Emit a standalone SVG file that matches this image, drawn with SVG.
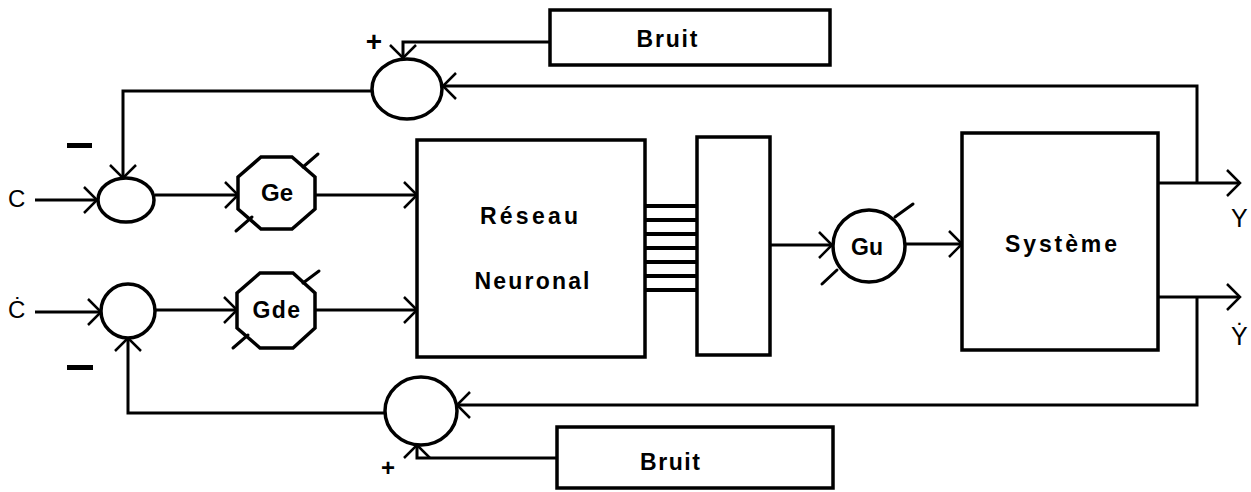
<svg xmlns="http://www.w3.org/2000/svg" width="1251" height="492" viewBox="0 0 1251 492">
<style>
.ln{fill:none;stroke:#000;stroke-width:3;stroke-linejoin:miter}
.bx{fill:#fff;stroke:#000;stroke-width:3.5}
.nd{fill:#fff;stroke:#000;stroke-width:3.5}
.tk{stroke:#000;stroke-width:3;stroke-linecap:round}
.lbl{font-family:"Liberation Sans","DejaVu Sans",sans-serif;font-weight:bold;fill:#000;text-anchor:middle}
.io{font-family:"Liberation Sans","DejaVu Sans",sans-serif;fill:#000}
</style>
<defs>
<marker id="ah" viewBox="0 0 30 30" refX="15" refY="15" markerWidth="30" markerHeight="30" orient="auto" markerUnits="userSpaceOnUse">
<path d="M2,2 L15,15 L2,28" fill="none" stroke="#000" stroke-width="2.5"/>
</marker>
</defs>
<rect width="1251" height="492" fill="#fff"/>

<g id="connectors">
<path class="ln" d="M35,200 H97" marker-end="url(#ah)"/>
<path class="ln" d="M155,195 H238" marker-end="url(#ah)"/>
<path class="ln" d="M315,195 H417" marker-end="url(#ah)"/>
<path class="ln" d="M35,312 H101" marker-end="url(#ah)"/>
<path class="ln" d="M155,310 H237" marker-end="url(#ah)"/>
<path class="ln" d="M315,310 H417" marker-end="url(#ah)"/>
<path class="ln" d="M770,245 H832" marker-end="url(#ah)"/>
<path class="ln" d="M906,244 H962" marker-end="url(#ah)"/>
<path class="ln" d="M1158,183 H1240" marker-end="url(#ah)"/>
<path class="ln" d="M1158,297 H1240" marker-end="url(#ah)"/>
<path class="ln" d="M1197,183 V86 H443" marker-end="url(#ah)"/>
<path class="ln" d="M372,91 H123 V178" marker-end="url(#ah)"/>
<path class="ln" d="M550,42 H403 V58" marker-end="url(#ah)"/>
<path class="ln" d="M1197,297 V405 H457" marker-end="url(#ah)"/>
<path class="ln" d="M385,413 H128 V338" marker-end="url(#ah)"/>
<path class="ln" d="M557,458 H417 V445" marker-end="url(#ah)"/>
</g>

<g id="bus">
<rect x="645" y="204" width="52" height="4" fill="#000"/>
<rect x="645" y="218" width="52" height="4" fill="#000"/>
<rect x="645" y="232" width="52" height="4" fill="#000"/>
<rect x="645" y="246" width="52" height="4" fill="#000"/>
<rect x="645" y="260" width="52" height="4" fill="#000"/>
<rect x="645" y="274" width="52" height="4" fill="#000"/>
<rect x="645" y="288" width="52" height="4" fill="#000"/>
</g>

<g id="sum-top">
<ellipse class="nd" cx="407" cy="89" rx="35" ry="30"/>
</g>
<g id="sum-c">
<ellipse class="nd" cx="126" cy="200" rx="28" ry="22"/>
</g>
<g id="sum-cdot">
<ellipse class="nd" cx="128" cy="311" rx="27" ry="27"/>
</g>
<g id="sum-bottom">
<ellipse class="nd" cx="421" cy="411" rx="36" ry="34"/>
</g>

<g id="gain-ge">
<polygon class="nd" points="261,157 292,157 315,177 315,209 292,229 261,229 238,209 238,177"/>
<line class="tk" x1="303" y1="167" x2="318" y2="154"/>
<line class="tk" x1="236" y1="231" x2="252" y2="217"/>
<text class="lbl" x="277" y="201" font-size="24">Ge</text>
</g>
<g id="gain-gde">
<polygon class="nd" points="260,273 293,273 315,293 315,328 293,348 260,348 237,328 237,293"/>
<line class="tk" x1="303" y1="283" x2="319" y2="271"/>
<line class="tk" x1="233" y1="348" x2="248" y2="335"/>
<text class="lbl" x="277" y="318" font-size="23" letter-spacing="1.5">Gde</text>
</g>
<g id="gain-gu">
<circle class="nd" cx="869" cy="246" r="36"/>
<line class="tk" x1="895" y1="217" x2="913" y2="204"/>
<line class="tk" x1="822" y1="284" x2="837" y2="270"/>
<text class="lbl" x="867" y="255" font-size="23">Gu</text>
</g>

<g id="reseau">
<rect class="bx" x="417" y="140" width="228" height="217"/>
<text class="lbl" x="529" y="224" font-size="23" textLength="98" lengthAdjust="spacing">Réseau</text>
<text class="lbl" x="532" y="289" font-size="23" textLength="115" lengthAdjust="spacing">Neuronal</text>
</g>
<g id="encoder">
<rect class="bx" x="697" y="137" width="73" height="218"/>
</g>
<g id="systeme">
<rect class="bx" x="962" y="133" width="196" height="217"/>
<text class="lbl" x="1061" y="252" font-size="23" textLength="112" lengthAdjust="spacing">Système</text>
</g>
<g id="bruit-top">
<rect class="bx" x="550" y="10" width="280" height="55"/>
<text class="lbl" x="667" y="47" font-size="23" textLength="61" lengthAdjust="spacing">Bruit</text>
</g>
<g id="bruit-bottom">
<rect class="bx" x="557" y="427" width="276" height="61"/>
<text class="lbl" x="670" y="470" font-size="23" textLength="60" lengthAdjust="spacing">Bruit</text>
</g>

<g id="labels">
<text class="io" x="8" y="207" font-size="24">C</text>
<text class="io" x="8" y="318" font-size="24">Ċ</text>
<text class="io" x="1231" y="227" font-size="25">Y</text>
<text class="io" x="1231" y="345" font-size="25">Ẏ</text>
<rect x="67" y="143" width="25" height="5" fill="#000"/>
<rect x="67" y="365" width="26" height="5" fill="#000"/>
<text class="lbl" x="374" y="51" font-size="28">+</text>
<text class="lbl" x="388" y="476" font-size="24">+</text>
</g>
</svg>
